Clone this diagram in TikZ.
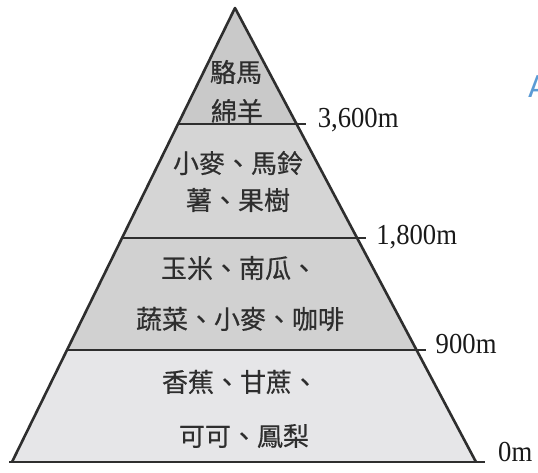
\documentclass[tikz,border=0pt]{standalone}
\usepackage{fontspec}
\usetikzlibrary{calc}
\setmainfont{Liberation Serif}
\newfontfamily\cjk[FakeBold=0.5]{Noto Sans CJK TC}
\newfontfamily\altfont[FakeStretch=0.92]{Liberation Serif}
\newfontfamily\penfont{DejaVu Sans}
\definecolor{inkgray}{HTML}{2E2E2E}
\definecolor{tierA}{HTML}{C9C9C9}
\definecolor{tierB}{HTML}{D5D5D5}
\definecolor{tierC}{HTML}{D1D1D1}
\definecolor{tierD}{HTML}{E6E6E8}
\definecolor{penblue}{HTML}{5B9BD5}
\begin{document}
\begin{tikzpicture}[x=1pt,y=-1pt,
    crop/.style={inner sep=0pt,text=inkgray,font=\cjk\fontsize{26}{26}\selectfont},
    height/.style={inner sep=0pt,anchor=base west,text=black!90,font=\altfont\fontsize{29}{29}\selectfont},
    level/.style={draw=inkgray,line width=2.6pt,line join=round}]
        \useasboundingbox (0,0) rectangle (538,472);
        \coordinate (apex) at (235,8);
        \coordinate (bl) at (12,462);
        \coordinate (br) at (476,462);
        \coordinate (l3) at ($(apex)!0.2555!(bl)$);
        \coordinate (r3) at ($(apex)!0.2555!(br)$);
        \coordinate (l2) at ($(apex)!0.5066!(bl)$);
        \coordinate (r2) at ($(apex)!0.5066!(br)$);
        \coordinate (l1) at ($(apex)!0.7533!(bl)$);
        \coordinate (r1) at ($(apex)!0.7533!(br)$);
        \fill [tierA] (apex) -- (l3) -- (r3) -- cycle;
        \fill [tierB] (l3) -- (l2) -- (r2) -- (r3) -- cycle;
        \fill [tierC] (l2) -- (l1) -- (r1) -- (r2) -- cycle;
        \fill [tierD] (l1) -- (bl) -- (br) -- (r1) -- cycle;
        \draw [level] (bl) -- (apex) -- (br);
        \draw [level] (l3) -- ($(r3)+(9,0)$) coordinate (t3);
        \draw [level] (l2) -- ($(r2)+(9,0)$) coordinate (t2);
        \draw [level] (l1) -- ($(r1)+(9,0)$) coordinate (t1);
        \draw [level] ($(bl)+(-3,0)$) -- ($(br)+(9,0)$) coordinate (t0);
        \node [height] (m3600) at ($(t3)+(12,4)$) {3,600m};
        \node [height] (m1800) at ($(t2)+(10,6)$) {1,800m};
        \node [height] (m900) at ($(t1)+(10,3)$) {900m};
        \node [height] (m0) at ($(t0)+(13,-1)$) {0m};
        \node [crop] (llama) at (236,72) {駱馬};
        \node [crop] (sheep) at (237,111) {綿羊};
        \node [crop] (wheat) at (238,163) {小麥、馬鈴};
        \node [crop] (potato) at (238,200) {薯、果樹};
        \node [crop] (maize) at (239,268) {玉米、南瓜、};
        \node [crop] (coffee) at (240,319) {蔬菜、小麥、咖啡};
        \node [crop] (banana) at (240,382) {香蕉、甘蔗、};
        \node [crop] (cocoa) at (244,436) {可可、鳳梨};
        \node [inner sep=0pt,anchor=west,text=penblue,font=\penfont\fontsize{30}{30}\selectfont] (pen) at (528,87) {A};
    \end{tikzpicture}
\end{document}
